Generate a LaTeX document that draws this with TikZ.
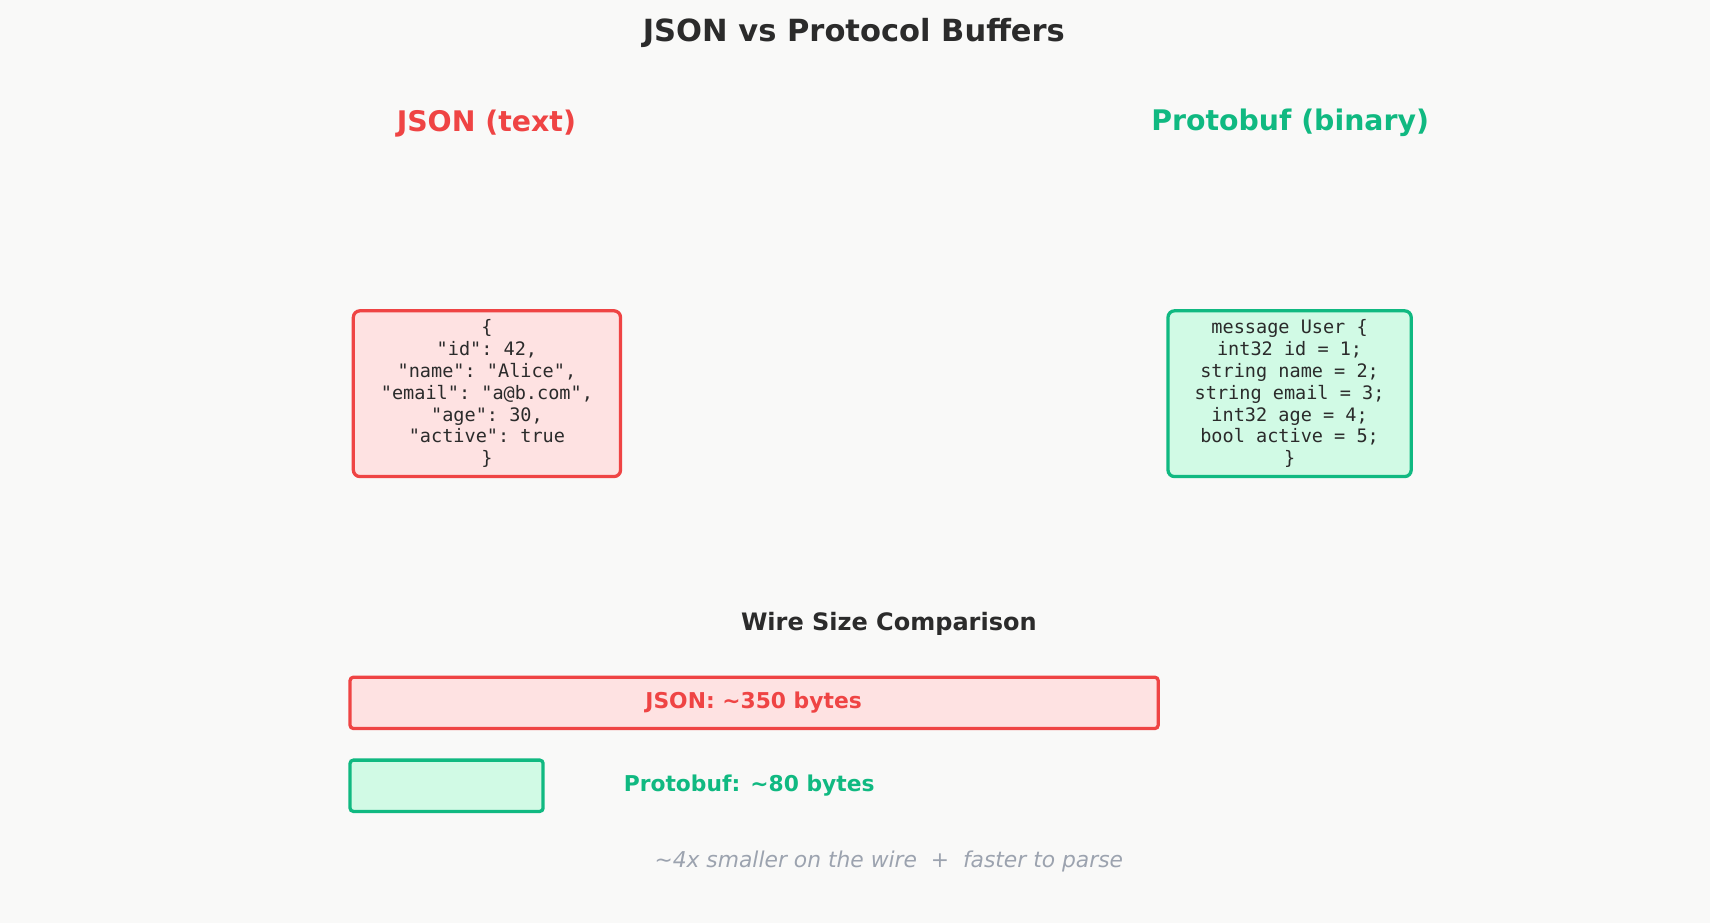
\documentclass[tikz,border=0pt]{standalone}
\usepackage{fontspec}
\setmainfont{DejaVu Sans}
\setmonofont{DejaVu Sans Mono}
\definecolor{bg}{HTML}{F9F9F8}
\definecolor{ink}{HTML}{2B2B2B}
\definecolor{jred}{HTML}{EF4444}
\definecolor{jfill}{HTML}{FEE2E2}
\definecolor{pgreen}{HTML}{10B981}
\definecolor{pfill}{HTML}{D1FAE5}
\definecolor{note}{HTML}{9CA3AF}
\begin{document}
\begin{tikzpicture}[x=0.5pt,y=-0.5pt,
  code/.style={font=\ttfamily\fontsize{8.5}{10}\selectfont, text=ink, align=center, inner sep=0pt},
  jbox/.style={draw=jred, fill=jfill, line width=1.5pt, rounded corners=3pt},
  pbox/.style={draw=pgreen, fill=pfill, line width=1.5pt, rounded corners=3pt},
  bar/.style={line width=1.5pt, rounded corners=1.5pt}]
\fill[bg] (0,0) rectangle (1568,846);
\useasboundingbox (0,0) rectangle (1568,846);
\node[font=\bfseries\fontsize{14}{16}\selectfont, text=ink] (title) at (783,30) {JSON vs Protocol Buffers};
\node[font=\bfseries\fontsize{13}{15}\selectfont, text=jred] (jh) at (446,113) {JSON (text)};
\node[font=\bfseries\fontsize{13}{15}\selectfont, text=pgreen] (ph) at (1183,113) {Protobuf (binary)};
\draw[jbox] (324,285) rectangle (569,437);
\node[code] (jc) at (446.5,361) {\{\\"id": 42,\\"name": "Alice",\\"email": "a@b.com",\\"age": 30,\\"active": true\\\}};
\draw[pbox] (1071,285) rectangle (1294,437);
\node[code] (pc) at (1182.5,361) {message User \{\\int32 id = 1;\\string name = 2;\\string email = 3;\\int32 age = 4;\\bool active = 5;\\\}};
\node[font=\bfseries\fontsize{11}{13}\selectfont, text=ink] (wsc) at (815,572) {Wire Size Comparison};
\draw[bar, draw=jred, fill=jfill] (321,621) rectangle (1062,668);
\node[font=\bfseries\fontsize{10}{12}\selectfont, text=jred] (jl) at (691,644) {JSON: \textasciitilde350 bytes};
\draw[bar, draw=pgreen, fill=pfill] (321,697) rectangle (498,744);
\node[font=\bfseries\fontsize{10}{12}\selectfont, text=pgreen] (pl) at (687,720) {Protobuf: \textasciitilde80 bytes};
\node[font=\itshape\fontsize{10}{12}\selectfont, text=note] (foot) at (815,790) {\textasciitilde4x smaller on the wire \ + \ faster to parse};
\end{tikzpicture}
\end{document}
